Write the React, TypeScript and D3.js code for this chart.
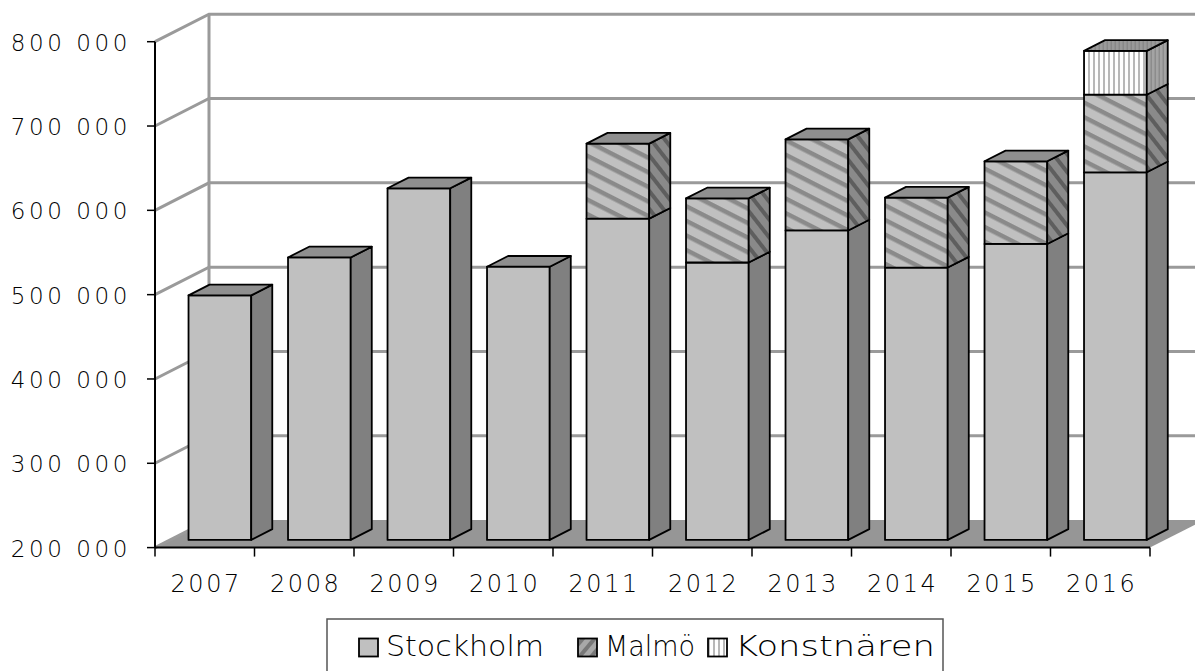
import React, { useEffect, useRef } from 'react';
import * as d3 from 'd3';

const years = ['2007', '2008', '2009', '2010', '2011', '2012', '2013', '2014', '2015', '2016'];
const stockholm = [490000, 535000, 617000, 524000, 581000, 529000, 567000, 523000, 551000, 636000];
const malmo = [0, 0, 0, 0, 89000, 76000, 108000, 83000, 98000, 92000];
const konstnaren = [0, 0, 0, 0, 0, 0, 0, 0, 0, 52000];
const seriesNames = ['Stockholm', 'Malmö', 'Konstnären'];
const yTicks = [200000, 300000, 400000, 500000, 600000, 700000, 800000];

const App = () => {
  const svgRef = useRef<SVGSVGElement | null>(null);

  useEffect(() => {
    const svg = d3.select(svgRef.current);
    svg.selectAll('*').remove();

    const font = '"DejaVu Sans", sans-serif';
    const weight = 200;
    const depthX = 54;
    const depthY = 27.5;
    const barFront = 0.28;
    const barBack = 0.67;

    const x = d3.scaleBand<string>().domain(years).range([155, 1150]);
    const y = d3.scaleLinear().domain([200000, 800000]).range([547.6, 41.7]);
    const pt = (px: number, v: number, d: number) => [px + d * depthX, y(v) - d * depthY];
    const poly = (pts: number[][]) => pts.map((p) => p.join(',')).join(' ');

    // patterns
    const defs = svg.append('defs');
    const stripes = (id: string, bg: string, fg: string, size: number, w: number, angle: number) => {
      const pat = defs
        .append('pattern')
        .attr('id', id)
        .attr('patternUnits', 'userSpaceOnUse')
        .attr('width', size)
        .attr('height', size)
        .attr('patternTransform', `rotate(${angle})`);
      pat.append('rect').attr('width', size).attr('height', size).attr('fill', bg);
      pat.append('rect').attr('width', size).attr('height', w).attr('fill', fg);
    };
    stripes('malmoFront', '#c0c0c0', '#8a8a8a', 13, 4.5, 27);
    stripes('malmoSide', '#8a8a8a', '#5e5e5e', 11, 4, 52);
    stripes('malmoLegend', '#a8a8a8', '#777', 9, 4, -50);
    stripes('konstFront', '#ffffff', '#b8b8b8', 5, 2, 90);
    stripes('konstSide', '#a4a4a4', '#8c8c8c', 4, 1.5, 90);
    stripes('konstTop', '#9a9a9a', '#888', 4, 1.5, 90);

    const fills = [
      { front: '#c0c0c0', side: '#808080', top: '#8f8f8f' },
      { front: 'url(#malmoFront)', side: 'url(#malmoSide)', top: '#8f8f8f' },
      { front: 'url(#konstFront)', side: 'url(#konstSide)', top: 'url(#konstTop)' },
    ];

    const x0 = 155;
    const x1 = 1150;
    const vMin = 200000;

    // floor
    svg
      .append('polygon')
      .attr('points', poly([pt(x0, vMin, 0), pt(x1, vMin, 0), pt(x1, vMin, 1), pt(x0, vMin, 1)]))
      .attr('fill', '#969696');

    // gridlines on back and side walls
    const grid = svg.append('g').attr('stroke', '#9a9a9a').attr('stroke-width', 3).attr('fill', 'none');
    yTicks.forEach((t) => {
      const a = pt(x0, t, 0);
      const b = pt(x0, t, 1);
      const c = pt(x1, t, 1);
      if (t > vMin) {
        grid.append('polyline').attr('points', poly([a, b, c]));
      } else {
        grid.append('line').attr('x1', a[0]).attr('y1', a[1]).attr('x2', b[0]).attr('y2', b[1]);
      }
    });
    const wTop = pt(x0, 800000, 1);
    const wBot = pt(x0, vMin, 1);
    grid.append('line').attr('x1', wTop[0]).attr('y1', wTop[1]).attr('x2', wBot[0]).attr('y2', wBot[1]);

    // floor front edge (x axis)
    svg
      .append('line')
      .attr('x1', x0)
      .attr('x2', x1)
      .attr('y1', y(vMin))
      .attr('y2', y(vMin))
      .attr('stroke', '#000')
      .attr('stroke-width', 2);

    // x ticks
    const boundaries = years.map((c) => x(c) as number).concat([x1]);
    svg
      .append('g')
      .selectAll('line')
      .data(boundaries)
      .enter()
      .append('line')
      .attr('x1', (d) => d)
      .attr('x2', (d) => d)
      .attr('y1', y(vMin))
      .attr('y2', y(vMin) + 9)
      .attr('stroke', '#000')
      .attr('stroke-width', 1.5);

    // y axis
    svg
      .append('line')
      .attr('x1', x0)
      .attr('x2', x0)
      .attr('y1', y(800000))
      .attr('y2', y(vMin))
      .attr('stroke', '#000')
      .attr('stroke-width', 2);
    svg
      .append('g')
      .selectAll('line')
      .data(yTicks)
      .enter()
      .append('line')
      .attr('x1', x0 - 8)
      .attr('x2', x0)
      .attr('y1', (d) => y(d))
      .attr('y2', (d) => y(d))
      .attr('stroke', '#000')
      .attr('stroke-width', 1.5);

    const fmt = (v: number) => d3.format(',')(v).replace(/,/g, ' ');
    svg
      .append('g')
      .selectAll('text')
      .data(yTicks)
      .enter()
      .append('text')
      .attr('x', 131)
      .attr('y', (d) => y(d) + 9)
      .attr('text-anchor', 'end')
      .attr('font-family', font)
      .attr('font-weight', weight)
      .attr('font-size', 23)
      .attr('letter-spacing', 3.6)
      .attr('fill', '#000')
      .text((d) => fmt(d));

    svg
      .append('g')
      .selectAll('text')
      .data(years)
      .enter()
      .append('text')
      .attr('x', (d) => (x(d) as number) + x.bandwidth() / 2 + 1.5)
      .attr('y', 591.5)
      .attr('text-anchor', 'middle')
      .attr('font-family', font)
      .attr('font-weight', weight)
      .attr('font-size', 24)
      .attr('letter-spacing', 2.6)
      .attr('fill', '#000')
      .text((d) => d);

    // stacked 3D bars
    const table = years.map((yr, i) => ({
      year: yr,
      Stockholm: stockholm[i],
      Malmö: malmo[i],
      Konstnären: konstnaren[i],
    }));
    const stack = d3.stack<any>().keys(seriesNames)(table);
    const bw = x.step() * 0.63;

    const bars = svg.append('g').attr('stroke', '#000').attr('stroke-width', 1.8).attr('stroke-linejoin', 'round');
    years.forEach((yr, i) => {
      const bx0 = (x(yr) as number) + (x.step() - bw) / 2;
      const bx1 = bx0 + bw;
      const segs = stack
        .map((layer, k) => ({ k, lo: Math.max(layer[i][0], vMin), hi: layer[i][1] }))
        .filter((s) => s.hi > s.lo);
      segs.forEach((s, j) => {
        const f = fills[s.k];
        bars
          .append('polygon')
          .attr('points', poly([pt(bx0, s.lo, barFront), pt(bx1, s.lo, barFront), pt(bx1, s.hi, barFront), pt(bx0, s.hi, barFront)]))
          .attr('fill', f.front);
        bars
          .append('polygon')
          .attr('points', poly([pt(bx1, s.lo, barFront), pt(bx1, s.lo, barBack), pt(bx1, s.hi, barBack), pt(bx1, s.hi, barFront)]))
          .attr('fill', f.side);
        if (j === segs.length - 1) {
          bars
            .append('polygon')
            .attr('points', poly([pt(bx0, s.hi, barFront), pt(bx1, s.hi, barFront), pt(bx1, s.hi, barBack), pt(bx0, s.hi, barBack)]))
            .attr('fill', f.top);
        }
      });
    });

    // legend
    const legend = svg.append('g');
    legend
      .append('rect')
      .attr('x', 327)
      .attr('y', 619)
      .attr('width', 616)
      .attr('height', 70)
      .attr('fill', '#fff')
      .attr('stroke', '#555')
      .attr('stroke-width', 1.5);
    const swatchX = [359, 578, 708];
    const textWidth = [158, 90, 200];
    const legendFills = ['#c0c0c0', 'url(#malmoLegend)', 'url(#konstFront)'];
    seriesNames.forEach((name, k) => {
      legend
        .append('rect')
        .attr('x', swatchX[k])
        .attr('y', 638.5)
        .attr('width', 19)
        .attr('height', 18)
        .attr('fill', legendFills[k])
        .attr('stroke', '#000')
        .attr('stroke-width', 1.8);
      legend
        .append('text')
        .attr('x', swatchX[k] + 27)
        .attr('y', 656)
        .attr('font-family', font)
        .attr('font-weight', weight)
        .attr('font-size', 29)
        .attr('textLength', textWidth[k])
        .attr('lengthAdjust', 'spacingAndGlyphs')
        .attr('fill', '#000')
        .text(name);
    });

    return () => {
      svg.selectAll('*').remove();
    };
  }, []);

  return (
    <svg
      ref={svgRef}
      width={1195}
      height={671}
      style={{ position: 'absolute', left: 0, top: 0, background: '#fff' }}
    />
  );
};

export default App;
